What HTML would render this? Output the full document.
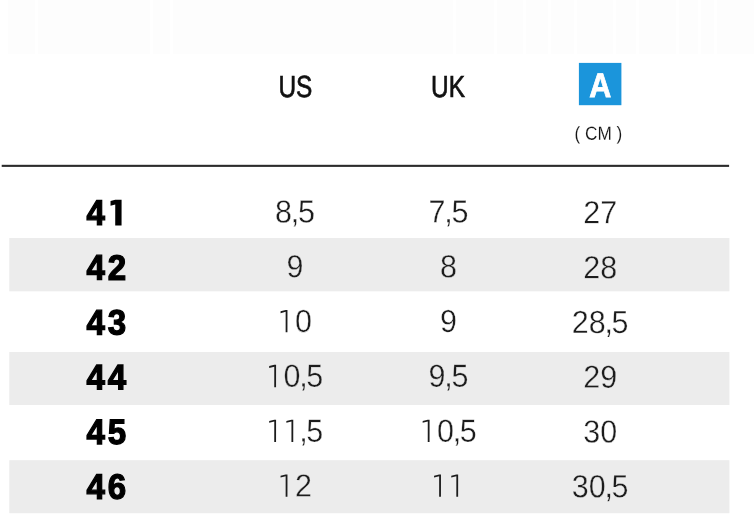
<!DOCTYPE html>
<html><head><meta charset="utf-8"><title>Size chart</title>
<style>
html,body{margin:0;padding:0;background:#fff;}
body{width:754px;height:524px;position:relative;overflow:hidden;font-family:"Liberation Sans",sans-serif;}
svg.bg{position:absolute;left:0;top:0;}
#w{position:absolute;left:0;top:0;width:754px;height:524px;will-change:transform;}
.t{position:absolute;left:0;top:0;display:block;white-space:nowrap;line-height:1;transform-origin:0 0;}
.l i{font-style:normal;margin:0 -1.4px;}
.l{font-size:31.9px;color:#1c1c1c;-webkit-text-stroke:0.35px #fff;}
.l.g{-webkit-text-stroke-color:#ececec;}
.b{font-size:35.4px;font-weight:bold;color:#000;letter-spacing:3.2px;-webkit-text-stroke:1.3px #000;}
.h{font-size:30.5px;color:#111;-webkit-text-stroke:0.7px #111;}
.cm{font-size:18.9px;color:#151515;-webkit-text-stroke:0.12px #fff;}
.d{display:inline-block;position:relative;color:transparent;-webkit-text-stroke-color:transparent;}
.d svg{position:absolute;left:0;overflow:visible;}
svg.o{width:.556em;height:.70em;bottom:5.85px;fill:#1c1c1c;}
svg.ob{width:.556em;height:.728em;bottom:6.0px;fill:#000;}
.A{font-size:34.1px;font-weight:bold;color:#fff;-webkit-text-stroke:0.8px #fff;}
</style></head><body><div id="w">
<svg class="bg" width="754" height="524" viewBox="0 0 754 524"><rect x="8" y="0" width="746" height="54" fill="#fdfdfd"/><rect x="35" y="0" width="3" height="54" fill="#fff"/><rect x="150" y="0" width="3" height="54" fill="#fff"/><rect x="170" y="0" width="3" height="54" fill="#fff"/><rect x="453" y="0" width="3" height="54" fill="#fff"/><rect x="494" y="0" width="3" height="54" fill="#fff"/><rect x="523" y="0" width="3" height="54" fill="#fff"/><rect x="548" y="0" width="3" height="54" fill="#fff"/><rect x="574" y="0" width="3" height="54" fill="#fff"/><rect x="613" y="0" width="3" height="54" fill="#fff"/><rect x="636" y="0" width="3" height="54" fill="#fff"/><rect x="676" y="0" width="3" height="54" fill="#fff"/><rect x="698" y="0" width="3" height="54" fill="#fff"/><rect x="714" y="0" width="3" height="54" fill="#fff"/><rect x="9.3" y="238.0" width="720.1" height="53.3" fill="#ececec"/><rect x="9.3" y="352.0" width="720.1" height="53.0" fill="#ececec"/><rect x="9.3" y="460.2" width="720.1" height="53.0" fill="#ececec"/><rect x="1.7" y="164.8" width="727.4" height="2.1" fill="#2b2b2b"/><rect x="578.9" y="62.9" width="42.5" height="42.3" fill="#1b95db"/></svg>
<span class="t h" style="transform:translate(295.40px,71.08px) rotate(.05deg) scaleX(0.800) translate(-50%,0)">US</span>
<span class="t h" style="transform:translate(448.00px,71.08px) rotate(.05deg) scaleX(0.800) translate(-50%,0)">UK</span>
<span class="t A" style="transform:translate(600.40px,67.93px) rotate(.05deg) scaleX(0.895) translate(-50%,0)">A</span>
<span class="t cm" style="transform:translate(598.50px,124.85px) rotate(.05deg) scaleX(0.910) translate(-50%,0)">( CM )</span>
<span class="t b" style="transform:translate(107.90px,195.83px) rotate(.05deg) scaleX(0.935) translate(-50%,0)">4<span class="d">1<svg class="ob" viewBox="0 0 20.3 26" preserveAspectRatio="none"><path d="M8 0H15V26H8V4.7L2.8 5.9V1.3Z"/></svg></span></span>
<span class="t l" style="transform:translate(295.00px,196.45px) rotate(.05deg) scaleX(0.955) translate(-50%,0)">8<i>,</i>5</span>
<span class="t l" style="transform:translate(448.50px,196.45px) rotate(.05deg) scaleX(0.955) translate(-50%,0)">7<i>,</i>5</span>
<span class="t l" style="transform:translate(600.20px,197.35px) rotate(.05deg) scaleX(0.955) translate(-50%,0)">27</span>
<span class="t b" style="transform:translate(107.90px,250.63px) rotate(.05deg) scaleX(0.935) translate(-50%,0)">42</span>
<span class="t l g" style="transform:translate(295.00px,251.25px) rotate(.05deg) scaleX(0.955) translate(-50%,0)">9</span>
<span class="t l g" style="transform:translate(448.50px,251.25px) rotate(.05deg) scaleX(0.955) translate(-50%,0)">8</span>
<span class="t l g" style="transform:translate(600.20px,252.15px) rotate(.05deg) scaleX(0.955) translate(-50%,0)">28</span>
<span class="t b" style="transform:translate(107.90px,305.43px) rotate(.05deg) scaleX(0.935) translate(-50%,0)">43</span>
<span class="t l" style="transform:translate(295.00px,306.05px) rotate(.05deg) scaleX(0.955) translate(-50%,0)"><span class="d">1<svg class="o" viewBox="0 0 17.3 22.4"><path d="M7.75 0H9.65V22.4H7.75V1.8L2.4 3.1V1.3Z"/></svg></span>0</span>
<span class="t l" style="transform:translate(448.50px,306.05px) rotate(.05deg) scaleX(0.955) translate(-50%,0)">9</span>
<span class="t l" style="transform:translate(600.20px,306.95px) rotate(.05deg) scaleX(0.955) translate(-50%,0)">28<i>,</i>5</span>
<span class="t b" style="transform:translate(107.90px,360.23px) rotate(.05deg) scaleX(0.935) translate(-50%,0)">44</span>
<span class="t l g" style="transform:translate(295.00px,360.85px) rotate(.05deg) scaleX(0.955) translate(-50%,0)"><span class="d">1<svg class="o" viewBox="0 0 17.3 22.4"><path d="M7.75 0H9.65V22.4H7.75V1.8L2.4 3.1V1.3Z"/></svg></span>0<i>,</i>5</span>
<span class="t l g" style="transform:translate(448.50px,360.85px) rotate(.05deg) scaleX(0.955) translate(-50%,0)">9<i>,</i>5</span>
<span class="t l g" style="transform:translate(600.20px,361.75px) rotate(.05deg) scaleX(0.955) translate(-50%,0)">29</span>
<span class="t b" style="transform:translate(107.90px,415.03px) rotate(.05deg) scaleX(0.935) translate(-50%,0)">45</span>
<span class="t l" style="transform:translate(295.00px,415.65px) rotate(.05deg) scaleX(0.955) translate(-50%,0)"><span class="d">1<svg class="o" viewBox="0 0 17.3 22.4"><path d="M7.75 0H9.65V22.4H7.75V1.8L2.4 3.1V1.3Z"/></svg></span><span class="d">1<svg class="o" viewBox="0 0 17.3 22.4"><path d="M7.75 0H9.65V22.4H7.75V1.8L2.4 3.1V1.3Z"/></svg></span><i>,</i>5</span>
<span class="t l" style="transform:translate(448.50px,415.65px) rotate(.05deg) scaleX(0.955) translate(-50%,0)"><span class="d">1<svg class="o" viewBox="0 0 17.3 22.4"><path d="M7.75 0H9.65V22.4H7.75V1.8L2.4 3.1V1.3Z"/></svg></span>0<i>,</i>5</span>
<span class="t l" style="transform:translate(600.20px,416.55px) rotate(.05deg) scaleX(0.955) translate(-50%,0)">30</span>
<span class="t b" style="transform:translate(107.90px,469.83px) rotate(.05deg) scaleX(0.935) translate(-50%,0)">46</span>
<span class="t l g" style="transform:translate(295.00px,470.45px) rotate(.05deg) scaleX(0.955) translate(-50%,0)"><span class="d">1<svg class="o" viewBox="0 0 17.3 22.4"><path d="M7.75 0H9.65V22.4H7.75V1.8L2.4 3.1V1.3Z"/></svg></span>2</span>
<span class="t l g" style="transform:translate(448.50px,470.45px) rotate(.05deg) scaleX(0.955) translate(-50%,0)"><span class="d">1<svg class="o" viewBox="0 0 17.3 22.4"><path d="M7.75 0H9.65V22.4H7.75V1.8L2.4 3.1V1.3Z"/></svg></span><span class="d">1<svg class="o" viewBox="0 0 17.3 22.4"><path d="M7.75 0H9.65V22.4H7.75V1.8L2.4 3.1V1.3Z"/></svg></span></span>
<span class="t l g" style="transform:translate(600.20px,471.35px) rotate(.05deg) scaleX(0.955) translate(-50%,0)">30<i>,</i>5</span>
</div></body></html>
